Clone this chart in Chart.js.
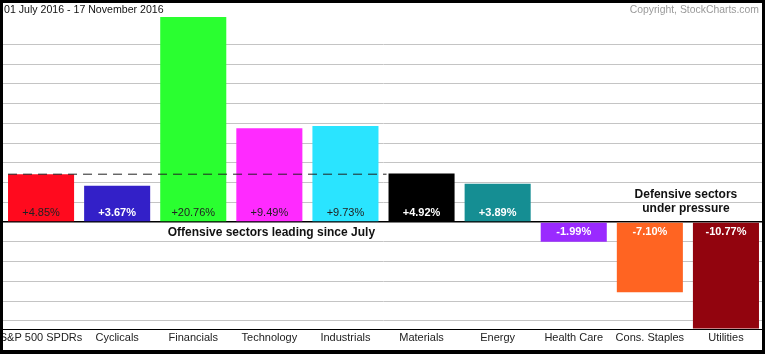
<!DOCTYPE html>
<html>
<head>
<meta charset="utf-8">
<script src="https://cdn.jsdelivr.net/npm/chart.js@4"></script>
<style>
  body { margin: 0; background: #fff; }
  #wrap { width: 765px; height: 354px; }
</style>
</head>
<body>
<div id="wrap"><canvas id="perf" width="765" height="354"></canvas></div>
<script>
// sectors, 01 July 2016 - 17 November 2016
const sectors = ['S&P 500 SPDRs', 'Cyclicals', 'Financials', 'Technology', 'Industrials',
  'Materials', 'Energy', 'Health Care', 'Cons. Staples', 'Utilities'];
const changes = [4.85, 3.67, 20.76, 9.49, 9.73, 4.92, 3.89, -1.99, -7.10, -10.77];
const gridTicks = [-10, -8, -6, -4, -2, 0, 2, 4, 6, 8, 10, 12, 14, 16, 18];

const barColors = ['#ff0a1e', '#3320c8', '#2aff30', '#ff2aff', '#2ae4ff',
  '#000000', '#158e93', '#9a2aff', '#ff6422', '#92040e'];
const labelColors = ['#222', '#fff', '#222', '#222', '#222',
  '#fff', '#fff', '#fff', '#fff', '#fff'];
const labelBold = [false, true, false, false, false, true, true, true, true, true];

const FONT = '"Liberation Sans", Arial, sans-serif';

// labels inside the bars, dashed S&P line, notes, frame
const extras = {
  id: 'extras',
  afterDatasetsDraw(chart) {
    const c = chart.ctx;
    const meta = chart.getDatasetMeta(0);
    const x = chart.scales.x, y = chart.scales.y;
    const zero = y.getPixelForValue(0);

    c.save();
    c.textAlign = 'center';
    c.textBaseline = 'middle';
    meta.data.forEach((bar, i) => {
      const v = changes[i];
      c.font = (labelBold[i] ? 'bold ' : '') + '11px ' + FONT;
      c.fillStyle = labelColors[i];
      const txt = (v > 0 ? '+' : '') + v.toFixed(2) + '%';
      c.fillText(txt, bar.x, v > 0 ? zero - 9 : zero + 10);
    });

    // S&P 500 reference line
    const b0 = meta.data[0], b5 = meta.data[5];
    const ly = y.getPixelForValue(changes[0]);
    c.strokeStyle = '#222';
    c.lineWidth = 1;
    c.setLineDash([9, 6]);
    c.beginPath();
    c.moveTo(b0.x - b0.width / 2, ly);
    c.lineTo(b5.x - b5.width / 2 - 2, ly);
    c.stroke();
    c.setLineDash([]);

    c.fillStyle = '#111';
    c.font = 'bold 12px ' + FONT;
    c.fillText('Offensive sectors leading since July', x.getPixelForValue(3) + 2, y.getPixelForValue(-1.1));
    c.fillText('Defensive sectors', x.getPixelForValue(8.5) - 2, y.getPixelForValue(2.75));
    c.fillText('under pressure', x.getPixelForValue(8.5) - 2, y.getPixelForValue(1.32));

    c.font = '10.6px ' + FONT;
    c.textAlign = 'left';
    c.fillStyle = '#111';
    c.fillText('01 July 2016 - 17 November 2016', 4, 10);
    c.textAlign = 'right';
    c.fillStyle = '#9a9a9a';
    c.font = '10.4px ' + FONT;
    c.fillText('Copyright, StockCharts.com', 759, 10);

    c.fillStyle = '#000';
    c.fillRect(0, 0, 765, 3);
    c.fillRect(0, 0, 3, 354);
    c.fillRect(762, 0, 3, 354);
    c.fillRect(0, 350, 765, 4);
    c.restore();
  }
};

new Chart(document.getElementById('perf'), {
  type: 'bar',
  data: {
    labels: sectors,
    datasets: [{
      data: changes,
      backgroundColor: barColors,
      borderWidth: 0,
      categoryPercentage: 1,
      barPercentage: 0.868
    }]
  },
  options: {
    responsive: false,
    animation: false,
    layout: { padding: { left: 3, right: 1, top: 17, bottom: 7 } },
    plugins: { legend: { display: false }, tooltip: { enabled: false } },
    scales: {
      x: {
        afterFit: (s) => { s.paddingLeft = 0; s.paddingRight = 0; },
        grid: { display: false, drawTicks: false },
        border: { display: true, color: '#000', width: 1 },
        ticks: { color: '#222', font: { family: FONT, size: 11 }, padding: 2, maxRotation: 0, autoSkip: false }
      },
      y: {
        min: -10.9,
        max: 20.76,
        afterBuildTicks: (s) => { s.ticks = gridTicks.map(v => ({ value: v })); },
        ticks: { display: false },
        border: { display: false },
        grid: {
          drawTicks: false,
          color: (ctx) => ctx.tick && ctx.tick.value === 0 ? '#000' : '#c4c4c4',
          lineWidth: (ctx) => ctx.tick && ctx.tick.value === 0 ? 1.5 : 1
        }
      }
    }
  },
  plugins: [extras]
});
</script>
</body>
</html>
